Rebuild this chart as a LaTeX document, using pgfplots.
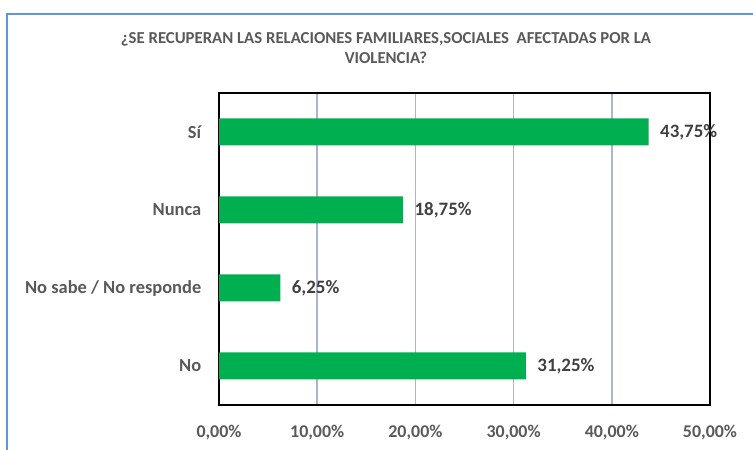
\documentclass[border=0pt]{standalone}
\usepackage{pgfplots}
\pgfplotsset{compat=1.18}
\usepackage{fontspec}
\setmainfont{Carlito}
\definecolor{bargreen}{HTML}{00B050}
\definecolor{txtgray}{HTML}{595959}
\definecolor{lblgray}{HTML}{404040}
\definecolor{gridc}{HTML}{A9B6CB}
\definecolor{bordblue}{HTML}{5B9BD5}
\begin{document}
\begin{tikzpicture}[x=1bp,y=1bp]
\useasboundingbox (0,0) rectangle (753,450);
\draw[bordblue, line width=1.5bp] (7,-5) -- (7,436) -- (760,436);
\node[font=\bfseries\fontsize{16.8}{18}\selectfont, text=txtgray, align=center] at (386,411) {¿SE RECUPERAN LAS RELACIONES FAMILIARES,SOCIALES\ \ AFECTADAS POR LA};
\node[font=\bfseries\fontsize{16.8}{18}\selectfont, text=txtgray, align=center] at (386,392) {VIOLENCIA?};
\begin{axis}[
  at={(219bp,45bp)}, anchor=south west,
  scale only axis, width=491bp, height=312bp,
  xbar, bar width=27bp,
  xmin=0, xmax=50, ymin=-0.5, ymax=3.5,
  xtick={0,10,20,30,40,50},
  ytick={0,1,2,3},
  yticklabels={No, No sabe / No responde, Nunca, Sí},
  xmajorgrids, major grid style={gridc, line width=1.5bp},
  axis line style={black, line width=1.3bp},
  tick style={draw=none},
  /pgf/number format/.cd, use comma, fixed, fixed zerofill, precision=2, assume math mode=true,
  /pgfplots/.cd,
  xticklabel={\pgfmathprintnumber{\tick}\%},
  xticklabel style={font=\bfseries\fontsize{18}{20}\selectfont, text=txtgray, yshift=-17bp},
  yticklabel style={font=\bfseries\fontsize{18.5}{20}\selectfont, text=txtgray, xshift=-10bp},
  nodes near coords={\pgfmathprintnumber{\pgfplotspointmeta}\%},
  nodes near coords style={font=\bfseries\fontsize{19}{21}\selectfont, text=lblgray, anchor=west, xshift=8bp},
  clip=false,
]
\addplot[fill=bargreen, draw=none] coordinates {(31.25,0) (6.25,1) (18.75,2) (43.75,3)};
\end{axis}
\end{tikzpicture}
\end{document}
